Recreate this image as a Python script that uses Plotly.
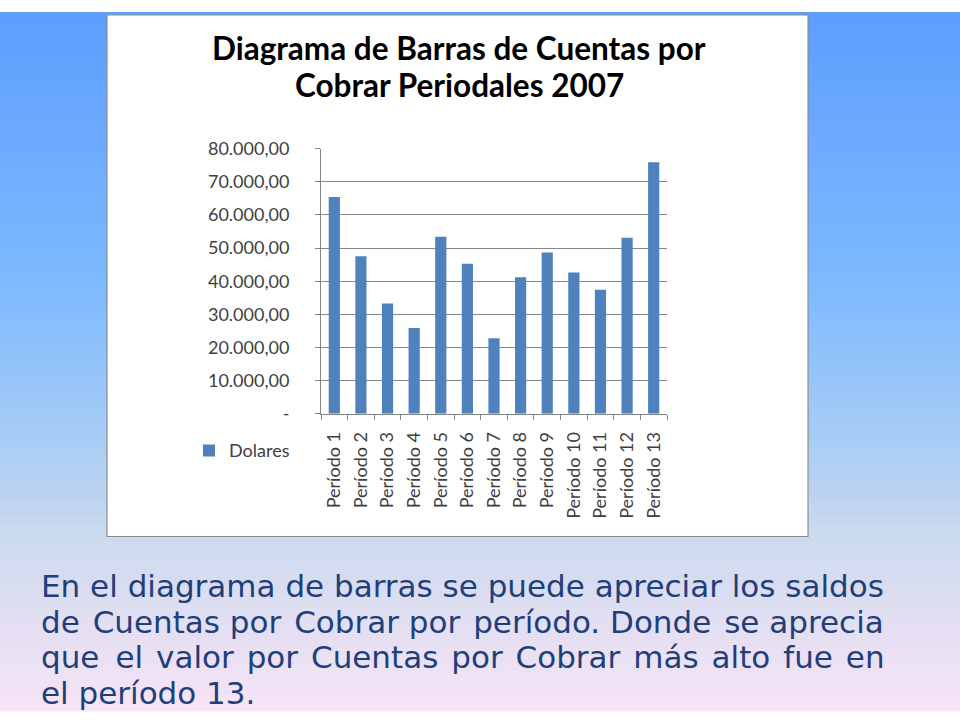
import plotly.graph_objects as go

categories = [f"Período {i}" for i in range(1, 14)]
dolares = [65400, 47500, 33300, 25900, 53400, 45300, 22800, 41200, 48700, 42600, 37400, 53100, 75900]
y_tickvals = [0, 10000, 20000, 30000, 40000, 50000, 60000, 70000, 80000]
y_ticktext = ["-", "10.000,00", "20.000,00", "30.000,00", "40.000,00",
              "50.000,00", "60.000,00", "70.000,00", "80.000,00"]
title_lines = ["Diagrama de Barras de Cuentas por", "Cobrar Periodales 2007"]
body_lines = [
    "En el diagrama de barras se puede apreciar los saldos",
    "de Cuentas por Cobrar por período. Donde se aprecia",
    "que el valor por Cuentas por Cobrar más alto fue en",
    "el período 13.",
]

W, H = 960, 720
FONT = "Lato"
BODY_FONT = "DejaVu Sans"

# the page is photographed with the figure occupying y = 12..712
TOP, SPAN = 12.0, 700.0
def PX(x):
    return x / W
def PY(y):
    return 1 - (y - TOP) / SPAN

def justify(line, extra_gaps):
    # widen some word gaps with hair spaces to mimic justified text
    words = line.split(" ")
    out = words[0]
    for i, w in enumerate(words[1:]):
        out += " " + "\u200a" * extra_gaps[i % len(extra_gaps)] + w
    return out

fig = go.Figure()
fig.add_trace(go.Bar(x=categories, y=dolares, name="Dolares",
                     marker=dict(color="#4F81BD", line=dict(width=0)),
                     showlegend=True))

stops = [(0.0, (92, 156, 254)), (0.40, (126, 186, 255)), (0.60, (165, 203, 245)),
         (0.75, (205, 218, 238)), (1.0, (250, 228, 247))]
def col_at(t):
    for (t0, c0), (t1, c1) in zip(stops[:-1], stops[1:]):
        if t0 <= t <= t1:
            f = (t - t0) / (t1 - t0)
            return "rgb(%d,%d,%d)" % tuple(round(a + (b - a) * f) for a, b in zip(c0, c1))
    return "rgb(%d,%d,%d)" % stops[-1][1]

shapes = []
n = 90
for i in range(n):
    ya = i / n
    yb = (i + 1) / n + 0.002
    t = (TOP + (i + 0.5) / n * SPAN) / H
    shapes.append(dict(type="rect", xref="paper", yref="paper", x0=0, x1=1,
                       y0=1 - yb, y1=1 - ya, fillcolor=col_at(t),
                       line=dict(width=0), layer="below"))
shapes.append(dict(type="rect", xref="paper", yref="paper",
                   x0=PX(107), x1=PX(808), y0=PY(538), y1=PY(15),
                   fillcolor="white", line=dict(color="#8C8C8C", width=1.2), layer="below"))

annotations = []
title_y = [48, 85]
for k, line in enumerate(title_lines):
    annotations.append(dict(text="<b>" + line + "</b>", xref="paper", yref="paper",
                            x=PX(459), y=PY(title_y[k]), showarrow=False,
                            xanchor="center", yanchor="middle",
                            font=dict(family=FONT, size=31.5, color="#000000")))
body_y = [588, 624, 659, 695]
gap_plan = {1: [1, 0], 2: [2, 1, 1, 1, 1, 1, 1, 1, 1, 1]}
for k, line in enumerate(body_lines):
    if k in gap_plan:
        line = justify(line, gap_plan[k])
    annotations.append(dict(text=line, xref="paper", yref="paper",
                            x=PX(39), y=PY(body_y[k]), showarrow=False,
                            xanchor="left", yanchor="middle",
                            font=dict(family=BODY_FONT, size=31, color="#1F3F7A")))

fig.update_layout(
    width=W, height=H,
    margin=dict(l=0, r=0, t=0, b=0),
    paper_bgcolor="white",
    plot_bgcolor="white",
    shapes=shapes,
    annotations=annotations,
    bargap=0.58,
    showlegend=True,
    legend=dict(x=PX(189), y=PY(452), xanchor="left", yanchor="middle",
                bgcolor="rgba(0,0,0,0)", font=dict(family=FONT, size=18, color="#404040"),
                itemwidth=30),
    xaxis=dict(domain=[PX(321), PX(667)], showgrid=False, showline=True,
               linecolor="#868686", linewidth=1, ticks="outside", ticklen=5,
               tickcolor="#868686", tickson="boundaries", tickangle=-90,
               ticklabelstandoff=10,
               tickfont=dict(family=FONT, size=18, color="#404040"),
               fixedrange=True),
    yaxis=dict(domain=[PY(415), PY(149)], range=[0, 80000],
               tickvals=y_tickvals, ticktext=y_ticktext,
               showgrid=True, gridcolor="#868686", gridwidth=1,
               showline=True, linecolor="#868686", linewidth=1,
               ticks="outside", ticklen=5, tickcolor="#868686",
               ticklabelstandoff=22,
               tickfont=dict(family=FONT, size=18, color="#404040"),
               zeroline=False, fixedrange=True),
)

page_css = ("document.body.style.margin='0';document.body.style.overflow='hidden';"
            "document.documentElement.style.background='linear-gradient(rgb(92,156,254), rgb(250,228,247))';"
            "document.body.style.background='transparent';")
fig.write_html("out.html", config={"displayModeBar": False, "staticPlot": True},
               post_script=page_css)
